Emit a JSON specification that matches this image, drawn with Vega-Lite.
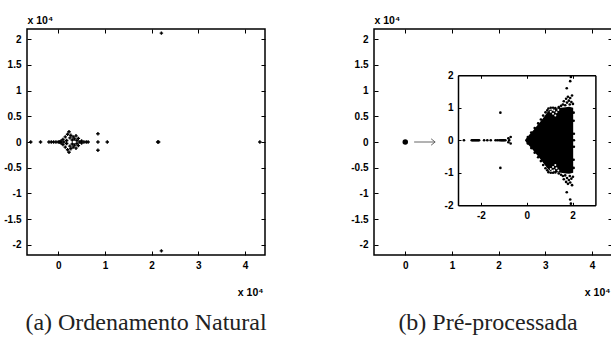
{
  "$schema": "https://vega.github.io/schema/vega-lite/v6.json",
  "background": "white",
  "padding": {"left": 3, "top": 14, "right": 0, "bottom": 0},
  "bounds": "flush",
  "spacing": 109,
  "config": {
    "font": "Liberation Sans",
    "view": {"stroke": "#000", "strokeWidth": 1.5},
    "axis": {
      "domain": false, "grid": false, "tickSize": -4, "tickColor": "#000", "tickWidth": 1,
      "labelFont": "Liberation Sans", "labelFontWeight": "bold", "labelFontSize": 10, "labelColor": "#000",
      "titleFont": "Liberation Sans", "titleFontWeight": "bold", "titleFontSize": 10.5, "titleColor": "#000"
    },
    "title": {"orient": "bottom", "fontSize": 24, "color": "#222", "offset": 13, "anchor": "middle"}
  },
  "datasets": {
    "a_pts": [
      {"re": -0.59, "im": 0}, {"re": -0.38, "im": 0},
      {"re": -0.2, "im": 0}, {"re": -0.15, "im": 0}, {"re": -0.1, "im": 0}, {"re": -0.05, "im": 0}, {"re": 0, "im": 0}, {"re": 0.03, "im": 0},
      {"re": 0.06, "im": 0.02}, {"re": 0.06, "im": -0.02},
      {"re": 0.1, "im": 0.05}, {"re": 0.1, "im": -0.05}, {"re": 0.12, "im": 0},
      {"re": 0.15, "im": 0.1}, {"re": 0.15, "im": -0.1}, {"re": 0.18, "im": 0.03}, {"re": 0.18, "im": -0.03},
      {"re": 0.2, "im": 0.15}, {"re": 0.2, "im": -0.15}, {"re": 0.23, "im": 0.2}, {"re": 0.23, "im": -0.2},
      {"re": 0.25, "im": 0.08}, {"re": 0.25, "im": -0.08}, {"re": 0.27, "im": 0.13}, {"re": 0.27, "im": -0.13},
      {"re": 0.3, "im": 0.04}, {"re": 0.3, "im": -0.04}, {"re": 0.32, "im": 0.1}, {"re": 0.32, "im": -0.1},
      {"re": 0.35, "im": 0.06}, {"re": 0.35, "im": -0.06}, {"re": 0.38, "im": 0.12}, {"re": 0.38, "im": -0.12},
      {"re": 0.4, "im": 0.03}, {"re": 0.4, "im": -0.03}, {"re": 0.43, "im": 0.07}, {"re": 0.43, "im": -0.07},
      {"re": 0.46, "im": 0}, {"re": 0.5, "im": 0.02}, {"re": 0.5, "im": -0.02}, {"re": 0.55, "im": 0}, {"re": 0.6, "im": 0}, {"re": 0.64, "im": 0},
      {"re": 0.85, "im": 0.16}, {"re": 0.85, "im": 0}, {"re": 0.85, "im": -0.16}, {"re": 1.05, "im": 0},
      {"re": 2.13, "im": 0}, {"re": 2.15, "im": 0}, {"re": 2.21, "im": 2.12}, {"re": 2.21, "im": -2.12}, {"re": 4.32, "im": 0}
    ],
    "b_main": [{"re": 0, "im": 0}],
    "b_arrow": [{"x1": 0.19, "x2": 0.64, "y": 0}],
    "inset_box": [{"x1": -3, "x2": 3, "y1": -2, "y2": 2}],
    "inset_area": [
      {"re": -0.08, "lo": 0, "hi": 0}, {"re": 0.0, "lo": -0.08, "hi": 0.08}, {"re": 0.15, "lo": -0.2, "hi": 0.2},
      {"re": 0.3, "lo": -0.32, "hi": 0.32}, {"re": 0.45, "lo": -0.45, "hi": 0.45}, {"re": 0.6, "lo": -0.58, "hi": 0.58},
      {"re": 0.75, "lo": -0.72, "hi": 0.72}, {"re": 0.9, "lo": -0.86, "hi": 0.86}, {"re": 1.0, "lo": -0.93, "hi": 0.93},
      {"re": 1.1, "lo": -0.96, "hi": 0.96}, {"re": 1.3, "lo": -0.98, "hi": 0.98}, {"re": 1.5, "lo": -1.0, "hi": 1.0},
      {"re": 1.7, "lo": -1.02, "hi": 1.02}, {"re": 1.85, "lo": -1.03, "hi": 1.03}, {"re": 2.03, "lo": -1.0, "hi": 1.0}
    ],
    "inset_pts": [
      {"re": -2.74, "im": 0}, {"re": -2.4, "im": 0}, {"re": -2.36, "im": 0}, {"re": -2.32, "im": 0}, {"re": -2.28, "im": 0},
      {"re": -2.24, "im": 0}, {"re": -2.2, "im": 0}, {"re": -2.16, "im": 0}, {"re": -2.12, "im": 0}, {"re": -2.08, "im": 0},
      {"re": -1.86, "im": 0}, {"re": -1.72, "im": 0}, {"re": -1.57, "im": 0},
      {"re": -1.36, "im": 0}, {"re": -1.28, "im": 0}, {"re": -1.2, "im": 0}, {"re": -1.14, "im": 0}, {"re": -1.1, "im": 0},
      {"re": -1.06, "im": 0}, {"re": -1.02, "im": 0}, {"re": -0.98, "im": 0}, {"re": -0.93, "im": 0},
      {"re": -0.8, "im": 0.06}, {"re": -0.8, "im": -0.06}, {"re": -0.76, "im": 0}, {"re": -0.7, "im": 0.1}, {"re": -0.7, "im": -0.1},
      {"re": -1.15, "im": 0.85}, {"re": -1.15, "im": -0.85},
      {"re": 0.05, "im": 0.1}, {"re": 0.2, "im": 0.24}, {"re": 0.35, "im": 0.38}, {"re": 0.5, "im": 0.52}, {"re": 0.62, "im": 0.64},
      {"re": 0.72, "im": 0.76}, {"re": 0.82, "im": 0.86}, {"re": 0.9, "im": 0.92}, {"re": 0.95, "im": 0.98}, {"re": 1.05, "im": 1.0},
      {"re": 1.15, "im": 1.0}, {"re": 1.25, "im": 0.99}, {"re": 1.4, "im": 1.02}, {"re": 1.5, "im": 1.06}, {"re": 1.58, "im": 1.1},
      {"re": 1.62, "im": 1.2}, {"re": 1.68, "im": 1.08}, {"re": 1.72, "im": 1.28}, {"re": 1.76, "im": 1.16}, {"re": 1.8, "im": 1.34},
      {"re": 1.84, "im": 1.22}, {"re": 1.88, "im": 1.1}, {"re": 1.9, "im": 1.3}, {"re": 1.95, "im": 1.18}, {"re": 1.98, "im": 1.38},
      {"re": 2.02, "im": 1.12}, {"re": 2.05, "im": 0.6}, {"re": 2.06, "im": 0.2}, {"re": 2.06, "im": 0}, {"re": 2.05, "im": 0.85},
      {"re": 1.75, "im": 1.6}, {"re": 1.9, "im": 1.82}, {"re": 1.93, "im": 1.95},
      {"re": 0.05, "im": -0.1}, {"re": 0.2, "im": -0.24}, {"re": 0.35, "im": -0.38}, {"re": 0.5, "im": -0.52}, {"re": 0.62, "im": -0.64},
      {"re": 0.72, "im": -0.76}, {"re": 0.82, "im": -0.86}, {"re": 0.9, "im": -0.92}, {"re": 0.95, "im": -0.98}, {"re": 1.05, "im": -1.0},
      {"re": 1.15, "im": -1.0}, {"re": 1.25, "im": -0.99}, {"re": 1.4, "im": -1.02}, {"re": 1.5, "im": -1.06}, {"re": 1.58, "im": -1.1},
      {"re": 1.62, "im": -1.2}, {"re": 1.68, "im": -1.08}, {"re": 1.72, "im": -1.28}, {"re": 1.76, "im": -1.16}, {"re": 1.8, "im": -1.34},
      {"re": 1.84, "im": -1.22}, {"re": 1.88, "im": -1.1}, {"re": 1.9, "im": -1.3}, {"re": 1.95, "im": -1.18}, {"re": 1.98, "im": -1.38},
      {"re": 2.02, "im": -1.12}, {"re": 2.05, "im": -0.6}, {"re": 2.06, "im": -0.2}, {"re": 2.05, "im": -0.85},
      {"re": 1.75, "im": -1.6}, {"re": 1.9, "im": -1.82}, {"re": 1.93, "im": -1.95}
    ],
    "inset_white": [
      {"re": 1.05, "im": 0.88}, {"re": 1.15, "im": 0.82}, {"re": 1.2, "im": 0.92}, {"re": 1.3, "im": 0.86}, {"re": 1.38, "im": 0.93},
      {"re": 1.25, "im": 0.76}, {"re": 1.12, "im": 0.94},
      {"re": 1.05, "im": -0.88}, {"re": 1.15, "im": -0.82}, {"re": 1.2, "im": -0.92}, {"re": 1.3, "im": -0.86}, {"re": 1.38, "im": -0.93},
      {"re": 1.25, "im": -0.76}, {"re": 1.12, "im": -0.94}
    ]
  },
  "hconcat": [
    {
      "width": 238, "height": 226,
      "title": {"text": "(a) Ordenamento Natural", "font": "Liberation Serif", "fontWeight": "normal"},
      "data": {"name": "a_pts"},
      "layer": [
        {
          "mark": {"type": "point", "shape": "cross", "filled": true, "size": 12, "color": "#000", "opacity": 1},
          "encoding": {
            "x": {"field": "re", "type": "quantitative", "scale": {"domain": [-0.67, 4.43], "nice": false, "zero": false},
              "axis": {"orient": "bottom", "values": [0, 1, 2, 3, 4], "labelExpr": "'' + datum.value", "labelPadding": 9,
                "title": "x 10⁴", "titleX": 236, "titleY": 40, "titleAlign": "right", "titleBaseline": "alphabetic", "titleAnchor": null}},
            "y": {"field": "im", "type": "quantitative", "scale": {"domain": [-2.2, 2.2], "nice": false, "zero": false},
              "axis": {"orient": "left", "values": [-2, -1.5, -1, -0.5, 0, 0.5, 1, 1.5, 2], "labelExpr": "'' + datum.value", "labelPadding": 10,
                "title": "x 10⁴", "titleAngle": 0, "titleX": 0, "titleY": -6, "titleAlign": "left", "titleBaseline": "alphabetic", "titleAnchor": null}}
          }
        },
        {
          "mark": {"type": "point", "opacity": 0},
          "encoding": {
            "x": {"field": "re", "type": "quantitative", "scale": {"domain": [-0.67, 4.43], "nice": false, "zero": false},
              "axis": {"orient": "top", "values": [0, 1, 2, 3, 4], "labels": false, "title": null}},
            "y": {"field": "im", "type": "quantitative", "scale": {"domain": [-2.2, 2.2], "nice": false, "zero": false},
              "axis": {"orient": "right", "values": [-2, -1.5, -1, -0.5, 0, 0.5, 1, 1.5, 2], "labels": false, "title": null}}
          }
        }
      ],
      "resolve": {"axis": {"x": "independent", "y": "independent"}}
    },
    {
      "width": 238, "height": 226,
      "title": {"text": "(b) Pré-processada", "dx": -5, "font": "Liberation Serif", "fontWeight": "normal"},
      "layer": [
        {
          "layer": [
            {
              "data": {"name": "b_main"},
              "mark": {"type": "circle", "size": 30, "color": "#000", "opacity": 1},
              "encoding": {
                "x": {"field": "re", "type": "quantitative", "scale": {"domain": [-0.67, 4.43], "nice": false, "zero": false},
                  "axis": {"orient": "bottom", "values": [0, 1, 2, 3, 4], "labelExpr": "'' + datum.value", "labelPadding": 9,
                    "title": "x 10⁴", "titleX": 236, "titleY": 40, "titleAlign": "right", "titleBaseline": "alphabetic", "titleAnchor": null}},
                "y": {"field": "im", "type": "quantitative", "scale": {"domain": [-2.2, 2.2], "nice": false, "zero": false},
                  "axis": {"orient": "left", "values": [-2, -1.5, -1, -0.5, 0, 0.5, 1, 1.5, 2], "labelExpr": "'' + datum.value", "labelPadding": 10,
                    "title": "x 10⁴", "titleAngle": 0, "titleX": 0, "titleY": -6, "titleAlign": "left", "titleBaseline": "alphabetic", "titleAnchor": null}}
              }
            },
            {
              "data": {"name": "b_main"},
              "mark": {"type": "point", "opacity": 0},
              "encoding": {
                "x": {"field": "re", "type": "quantitative", "scale": {"domain": [-0.67, 4.43], "nice": false, "zero": false},
                  "axis": {"orient": "top", "values": [0, 1, 2, 3, 4], "labels": false, "title": null}},
                "y": {"field": "im", "type": "quantitative", "scale": {"domain": [-2.2, 2.2], "nice": false, "zero": false},
                  "axis": {"orient": "right", "values": [-2, -1.5, -1, -0.5, 0, 0.5, 1, 1.5, 2], "labels": false, "title": null}}
              }
            },
            {
              "data": {"name": "b_arrow"},
              "mark": {"type": "rule", "color": "#666", "strokeWidth": 1},
              "encoding": {
                "x": {"field": "x1", "type": "quantitative", "axis": null},
                "x2": {"field": "x2"},
                "y": {"field": "y", "type": "quantitative", "axis": null}
              }
            },
            {
              "data": {"name": "b_arrow"},
              "mark": {"type": "point", "shape": "M-1,-0.8L0,0L-1,0.8", "filled": false, "stroke": "#666", "strokeWidth": 1, "size": 64, "opacity": 1},
              "encoding": {
                "x": {"field": "x2", "type": "quantitative", "axis": null},
                "y": {"field": "y", "type": "quantitative", "axis": null}
              }
            }
          ],
          "resolve": {"axis": {"x": "independent", "y": "independent"}}
        },
        {
          "layer": [
            {
              "data": {"name": "inset_box"},
              "mark": {"type": "rect", "fill": "#fff", "strokeWidth": 0},
              "encoding": {
                "x": {"field": "x1", "type": "quantitative", "scale": {"domain": [-3, 3], "range": [84, 221.4], "nice": false, "zero": false},
                  "axis": {"orient": "bottom", "offset": -49.7, "zindex": 1, "domain": true, "domainColor": "#000", "domainWidth": 1.5, "values": [-2, 0, 2], "tickSize": -3, "labelExpr": "'' + datum.value", "labelPadding": 8, "title": null}},
                "x2": {"field": "x2"},
                "y": {"field": "y1", "type": "quantitative", "scale": {"domain": [-2, 2], "range": [176.3, 46.3], "nice": false, "zero": false},
                  "axis": {"orient": "left", "offset": -84, "zindex": 1, "domain": true, "domainColor": "#000", "domainWidth": 1.5, "values": [-2, -1, 0, 1, 2], "tickSize": -3, "labelExpr": "'' + datum.value", "labelPadding": 8, "title": null}},
                "y2": {"field": "y2"}
              }
            },
            {
              "data": {"name": "inset_box"},
              "mark": {"type": "point", "opacity": 0},
              "encoding": {
                "x": {"field": "x1", "type": "quantitative",
                  "axis": {"orient": "top", "offset": -46.3, "zindex": 1, "domain": true, "domainColor": "#000", "domainWidth": 1.5, "values": [-2, 0, 2], "tickSize": -3, "labels": false, "title": null}},
                "y": {"field": "y1", "type": "quantitative",
                  "axis": {"orient": "right", "offset": -16.6, "zindex": 1, "domain": true, "domainColor": "#000", "domainWidth": 1.5, "values": [-2, -1, 0, 1, 2], "tickSize": -3, "labels": false, "title": null}}
              }
            },
            {
              "data": {"name": "inset_area"},
              "mark": {"type": "area", "color": "#000", "opacity": 1},
              "encoding": {
                "x": {"field": "re", "type": "quantitative", "axis": null},
                "y": {"field": "hi", "type": "quantitative", "axis": null},
                "y2": {"field": "lo"}
              }
            },
            {
              "data": {"name": "inset_pts"},
              "mark": {"type": "circle", "size": 7, "color": "#000", "opacity": 1},
              "encoding": {
                "x": {"field": "re", "type": "quantitative", "axis": null},
                "y": {"field": "im", "type": "quantitative", "axis": null}
              }
            },
            {
              "data": {"name": "inset_white"},
              "mark": {"type": "circle", "size": 4, "color": "#fff", "opacity": 1},
              "encoding": {
                "x": {"field": "re", "type": "quantitative", "axis": null},
                "y": {"field": "im", "type": "quantitative", "axis": null}
              }
            }
          ],
          "resolve": {"axis": {"x": "independent", "y": "independent"}}
        }
      ],
      "resolve": {"scale": {"x": "independent", "y": "independent"}, "axis": {"x": "independent", "y": "independent"}}
    }
  ]
}
